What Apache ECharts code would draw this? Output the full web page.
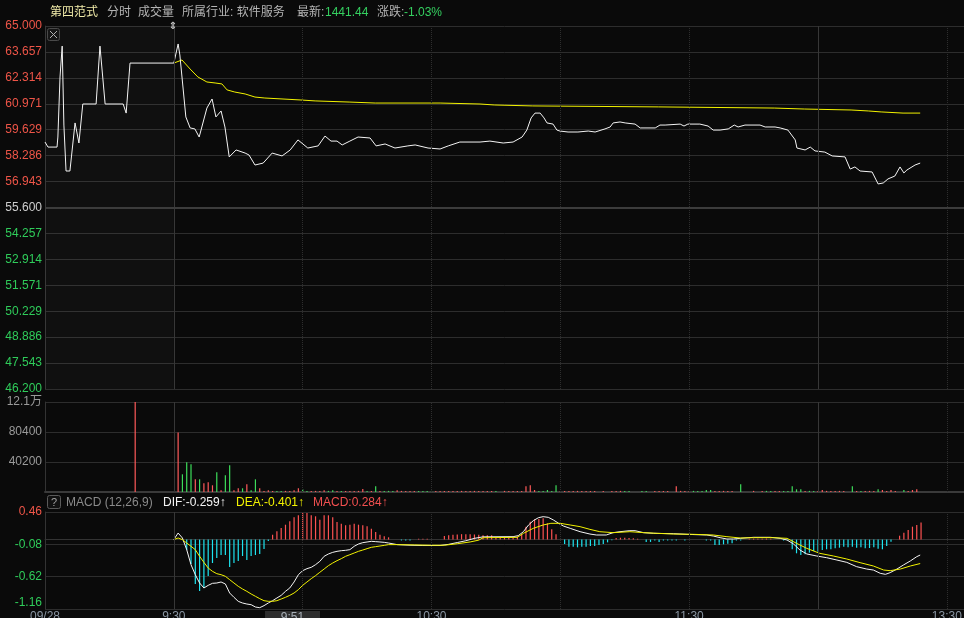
<!DOCTYPE html>
<html><head><meta charset="utf-8">
<script src="https://cdn.jsdelivr.net/npm/echarts@6.0.0/dist/echarts.min.js"></script>
<style>html,body{margin:0;padding:0;background:#0a0a0a;overflow:hidden}#c{width:964px;height:618px}</style>
</head><body><div id="c"></div>
<script>
// x = trading minutes after 09:00 (09:00-09:30 pre-open, 09:30-12:00, then 13:00-...; lunch collapsed)
const priceData = [
[0,58.99],[0.7,58.73],[2.8,58.73],[3.0,59.25],[3.5,62.36],[4.0,63.96],[4.4,59.87],[4.9,57.49],[5.8,57.49],[7.0,59.98],[7.9,58.94],[8.8,60.96],[11.9,60.96],[12.8,63.96],[14.0,60.96],[18.2,60.96],[18.9,60.49],[19.8,63.08],[30,63.08],
[31,64.07],[31.4,63.5],[32.8,60.29],[33.8,59.72],[34.9,59.67],[35.9,59.25],[37.7,60.75],[38.9,61.22],[39.8,60.29],[41,60.6],[41.9,59.77],[42.9,58.22],[44.5,58.58],[46.6,58.42],[47.5,58.32],[48.9,57.8],[50.8,57.9],[52.9,58.42],[55.2,58.27],[57.1,58.58],[58.9,59.1],[61.2,58.68],[63.6,58.79],[65.2,59.3],[66.6,59.04],[68,59.04],[69.2,58.84],[71,59.04],[72.9,59.25],[75.7,59.2],[77.1,58.79],[79.2,58.89],[81.5,58.68],[84.5,58.79],[86.2,58.84],[89.2,58.68],[92,58.63],[93.9,58.79],[96.6,58.99],[101.3,58.99],[103.6,59.04],[106.7,58.94],[109,58.99],[111.1,59.25],[112.2,59.61],[113.2,60.24],[114.1,60.49],[115.3,60.49],[116.2,60.24],[116.9,59.98],[118.3,59.92],[119.2,59.61],[119.9,59.56],[121.8,59.51],[124.1,59.51],[126.5,59.56],[128.1,59.51],[130.4,59.67],[131.6,59.77],[132.3,59.98],[133.9,60.03],[135.1,59.98],[137.4,59.92],[138.6,59.72],[142.1,59.72],[143.2,59.87],[144.4,59.87],[147.9,59.92],[148.8,59.82],[149.7,59.92],[152.5,59.92],[154.4,59.82],[155.6,59.61],[157.2,59.61],[159.1,59.67],[160.5,59.87],[161.4,59.77],[163,59.87],[166.5,59.87],[167.7,59.77],[170,59.77],[171.2,59.72],[173,59.61],[174.7,59.1],[175.1,58.68],[177,58.58],[178.2,58.73],[179.3,58.53],[181.6,58.47],[183.3,58.27],[186.3,58.22],[187.5,57.59],[188.6,57.7],[189.8,57.49],[192.6,57.44],[194,56.82],[195.2,56.87],[196.3,57.08],[197.9,57.23],[199.1,57.7],[200,57.39],[200.7,57.54],[202.6,57.8],[203.8,57.9]
];
const avgData = [
[30,63.08],[31.9,63.24],[33.8,62.77],[35.6,62.36],[37.7,62.1],[39.6,62.05],[41.2,62.0],[42.4,61.69],[44.2,61.58],[46.6,61.48],[48.9,61.32],[51.2,61.27],[59.4,61.17],[62.9,61.12],[71,61.06],[76.9,61.01],[92,61.01],[101.3,60.96],[104.6,60.91],[113.6,60.86],[142.8,60.81],[169.8,60.75],[176.8,60.7],[187.7,60.65],[191.7,60.6],[194.7,60.55],[199.8,60.49],[203.8,60.49]
];
// [minute, volume, direction(1 up / -1 down)]
const volData = [
[21,120600,1],
[31,79600,1],[32,23700,-1],[33,39800,-1],[34,37100,-1],[35,17000,1],[36,17000,-1],[37,11700,1],[38,13000,1],[39,9000,1],[40,26400,-1],[41,2300,1],[42,22400,-1],[43,35800,-1],[44,2300,1],[45,5000,1],[46,5000,-1],[47,10300,1],[48,2300,-1],[49,17000,-1],[50,5000,1],[51,1500,1],[52,2300,1],[53,1500,1],[54,1500,-1],[55,1500,-1],[56,1500,1],[57,1500,1],[58,2300,1],[59,5000,1],[60,4000,-1],[61,1500,-1],[62,1500,1],[63,1500,1],[64,1500,1],[65,2300,1],[66,1500,-1],[67,2300,-1],[68,1500,1],[69,1500,-1],[70,1500,1],[71,1500,1],[72,1500,1],[73,1500,1],[74,4000,1],[75,1500,-1],[76,1500,1],[77,7700,-1],[78,1500,1],[79,1500,-1],[80,1500,-1],[81,1500,-1],[82,2300,1],[83,1500,1],[84,1500,1],[85,1500,1],[86,1500,1],[87,1500,-1],[88,1500,-1],[89,1500,-1],
[90,1500,-1],[91,1500,1],[92,1500,1],[93,1500,1],[94,1500,1],[95,1500,1],[96,1500,1],[97,1500,1],[98,1500,1],[99,1500,1],[100,1500,1],[101,1500,1],
[102,1500,1],[103,1500,1],[104,1500,1],[105,1500,-1],[107,1500,1],[108,1500,1],[109,1500,1],[110,1500,1],[111,1500,1],[112,7700,1],[113,9000,1],[114,2700,1],[115,1500,-1],[116,1500,-1],[117,2700,-1],[118,1500,-1],[119,9000,-1],[120,1500,1],[121,1500,1],[122,1500,1],[123,1500,1],[124,1500,1],[125,1500,1],[126,1500,1],[127,1500,1],[128,1500,1],[130,1500,1],[132,1500,1],[133,1500,1],[134,1500,1],[135,1500,-1],[136,1500,-1],[139,1500,-1],[140,1500,-1],[142,1500,1],[143,1500,1],[144,1500,1],[145,1500,1],[147,7700,1],[148,1500,1],[149,1500,1],[150,1500,1],[151,1500,-1],[152,1500,-1],[153,1500,-1],[154,2700,-1],[155,2700,-1],[156,1500,1],[157,1500,1],[158,1500,1],[159,1500,1],[160,1500,1],[162,10300,-1],[165,1500,1],[167,1500,1],[168,1500,-1],[169,1500,-1],[170,1500,1],[171,1500,1],[172,1500,-1],[173,1500,-1],[174,7700,-1],[175,3600,-1],[176,3600,-1],[177,1500,1],[178,1500,-1],[179,1500,-1],[180,1500,1],[181,2700,1],[182,1500,1],[183,1500,1],[184,1500,1],[185,1500,1],[186,1500,1],[188,7700,-1],[189,1500,1],[190,1500,-1],[191,1500,1],[192,1500,1],[193,1500,1],[194,3600,-1],[195,2700,1],[196,1500,1],[197,2700,1],[198,1500,1],[200,2700,-1],[201,1500,1],[202,2700,1],[203,3600,1]
];
const difData = [
[30,0.0],[31,0.109],[32,0.026],[33,-0.169],[34,-0.42],[35,-0.587],[36,-0.726],[37,-0.809],[38,-0.765],[39,-0.731],[40,-0.726],[41,-0.709],[42,-0.742],[43,-0.893],[44,-0.965],[45,-1.032],[46,-1.06],[47,-1.077],[48,-1.088],[49,-1.127],[50,-1.138],[51,-1.104],[52,-1.06],[53,-1.021],[54,-0.976],[55,-0.932],[56,-0.865],[57,-0.809],[58,-0.709],[59,-0.587],[60,-0.52],[61,-0.486],[62,-0.464],[63,-0.42],[64,-0.364],[65,-0.28],[66,-0.241],[67,-0.214],[68,-0.197],[69,-0.186],[70,-0.18],[71,-0.169],[72,-0.113],[73,-0.074],[74,-0.052],[75,-0.041],[76,-0.03],[77,-0.035],[78,-0.041],[79,-0.047],[80,-0.058],[82,-0.085],[85,-0.095],[88,-0.1],[92,-0.1],[94,-0.08],[96,-0.05],[98,-0.02],[100,0.02],[102,0.045],[109,0.048],[110.2,0.065],[111.4,0.131],[112.6,0.243],[113.7,0.315],[114.9,0.365],[116,0.382],[117.2,0.371],[118.4,0.326],[119.6,0.271],[120.7,0.226],[122.3,0.187],[124.6,0.131],[126.9,0.092],[128.4,0.076],[130.7,0.076],[132.3,0.115],[133.9,0.131],[136.2,0.148],[137.4,0.148],[139.4,0.115],[141.7,0.104],[146.3,0.098],[149.5,0.087],[154.1,0.076],[155.6,0.059],[157.2,0.031],[158.8,0.009],[160.3,0.009],[161.9,0.02],[165,0.037],[168.9,0.037],[171.2,0.02],[172.8,-0.008],[174.3,-0.074],[175.8,-0.175],[177.4,-0.241],[179.7,-0.275],[182,-0.303],[184.4,-0.342],[186.7,-0.381],[189,-0.453],[191.3,-0.492],[192.9,-0.509],[194.5,-0.564],[195.7,-0.581],[196.8,-0.553],[198.4,-0.492],[199.9,-0.425],[201.5,-0.358],[203,-0.286],[203.8,-0.259]
];
const deaData = [
[30,0.0],[31,0.026],[32,-0.002],[33,-0.058],[34,-0.113],[35,-0.169],[36,-0.28],[37,-0.381],[38,-0.475],[39,-0.531],[40,-0.57],[41,-0.587],[42,-0.614],[43,-0.67],[44,-0.726],[45,-0.781],[46,-0.826],[47,-0.865],[48,-0.909],[49,-0.948],[50,-0.987],[51,-1.021],[52,-1.032],[53,-1.032],[54,-1.021],[55,-0.993],[56,-0.965],[57,-0.932],[58,-0.893],[59,-0.837],[60,-0.765],[61,-0.709],[62,-0.653],[63,-0.603],[64,-0.547],[65,-0.492],[66,-0.436],[67,-0.392],[68,-0.353],[69,-0.319],[70,-0.28],[71,-0.253],[72,-0.225],[73,-0.197],[74,-0.175],[75,-0.152],[76,-0.13],[77,-0.119],[78,-0.108],[79,-0.097],[80,-0.085],[82,-0.085],[86,-0.09],[90,-0.095],[93,-0.095],[96,-0.07],[99,-0.04],[101,-0.01],[102,0.03],[110,0.037],[111.4,0.104],[113.7,0.187],[116,0.243],[117.8,0.271],[120,0.271],[122.3,0.243],[124.6,0.215],[126.9,0.17],[129.2,0.131],[132.3,0.115],[136.2,0.131],[139.4,0.115],[142.5,0.104],[146.3,0.092],[151,0.087],[155.6,0.076],[158.8,0.048],[161.9,0.026],[165,0.031],[169.7,0.031],[172.8,0.02],[175,-0.063],[177.4,-0.147],[180.4,-0.23],[183.6,-0.275],[186.7,-0.325],[189.8,-0.386],[192.9,-0.442],[195.3,-0.509],[196.8,-0.52],[199.2,-0.492],[201.5,-0.442],[203.8,-0.401]
];
const macdData = [
[33,-0.175],[34,-0.408],[35,-0.742],[36,-0.859],[37,-0.809],[38,-0.609],[39,-0.392],[40,-0.308],[41,-0.258],[42,-0.258],[43,-0.458],[44,-0.392],[45,-0.358],[46,-0.275],[47,-0.342],[48,-0.275],[49,-0.258],[50,-0.241],[51,-0.158],[52,-0.024],
[53,0.081],[54,0.138],[55,0.193],[56,0.248],[57,0.305],[58,0.371],[59,0.405],[60,0.443],[61,0.443],[62,0.405],[63,0.388],[64,0.331],[65,0.405],[66,0.405],[67,0.371],[68,0.293],[69,0.265],[70,0.238],[71,0.248],[72,0.265],[73,0.248],[74,0.238],[75,0.221],[76,0.181],[77,0.126],[78,0.081],[79,0.054],[80,0.037],
[83,-0.015],[84,-0.015],[85,-0.015],[87,0.015],[88,0.015],[89,0.015],
[93,0.06],[94,0.07],[95,0.08],[96,0.085],[97,0.09],[98,0.09],[99,0.09],[100,0.085],[101,0.08],
[102,0.07],[103,0.07],[104,0.07],[105,0.03],[106,0.03],[107,0.03],[108,0.03],[109,0.03],[110,0.05],[111,0.09],[112,0.215],[113,0.298],[114,0.337],[115,0.343],[116,0.354],[117,0.271],[118,0.17],[119,0.087],
[121,-0.074],[122,-0.119],[123,-0.119],[124,-0.13],[125,-0.119],[126,-0.119],[127,-0.108],[128,-0.108],[129,-0.091],[130,-0.074],[131,-0.047],
[132,-0.012],[133,0.025],[134,0.03],[135,0.03],[136,0.025],[137,0.02],[138,0.015],
[140,-0.04],[141,-0.04],[142,-0.015],[143,-0.04],[144,-0.015],[145,-0.015],[146,-0.015],[147,-0.015],[149,-0.015],
[154,-0.015],[155,-0.015],[156,-0.09],[157,-0.09],[158,-0.08],[159,-0.07],[160,-0.06],[161,-0.015],[162,-0.015],
[164,0.015],[165,0.015],[166,0.015],[167,0.015],[168,0.015],[169,0.015],
[172,-0.015],[173,-0.015],[174,-0.163],[175,-0.23],[176,-0.258],[177,-0.247],[178,-0.219],[179,-0.191],[180,-0.203],[181,-0.175],[182,-0.163],[183,-0.163],[184,-0.147],[185,-0.136],[186,-0.119],[187,-0.13],[188,-0.119],[189,-0.136],[190,-0.13],[191,-0.147],[192,-0.141],[193,-0.13],[194,-0.152],[195,-0.163],[196,-0.108],[197,-0.035],
[199,0.064],[200,0.115],[201,0.159],[202,0.215],[203,0.243],[204,0.284]
];
const sessionTicks = [30, 60, 90, 120, 150, 180, 210];
const sessionBreaks = [30, 180];
const timeTickPos = [0, 30, 90, 150, 210];
const timeTickText = ['09/28', '9:30', '10:30', '11:30', '13:30'];
const preOpenEnd = 30;
const xMax = 214;
const priceMin = 46.2, priceMax = 65.0, prevClose = 55.6, priceSplits = 14;
const volMax = 120600, volSplits = 3;
const macdMin = -1.16, macdMax = 0.46, macdSplits = 3;
const cursorTime = 51, cursorText = '9:51';
const headerTexts = ['第四范式', '分时', '成交量', '所属行业: 软件服务', '最新:', '1441.44', '涨跌:', '-1.03%'];
const macdTexts = ['MACD (12,26,9)', 'DIF:-0.259↑', 'DEA:-0.401↑', 'MACD:0.284↑'];

const FONT = '"Liberation Sans", Arial, "Noto Sans CJK SC", sans-serif';
const RED = '#ee5548', GREEN = '#2fcc5a', GRIDC = '#2d2d2d';
const chart = echarts.init(document.getElementById('c'));

const vLines = sessionTicks.map(t => ({
  xAxis: t,
  lineStyle: { color: sessionBreaks.includes(t) ? '#373737' : '#2e2e2e', type: sessionBreaks.includes(t) ? 'solid' : 'dotted', width: 1 }
}));
const mk = extra => ({ silent: true, symbol: 'none', label: { show: false }, animation: false, data: vLines.concat(extra || []) });
const labelFor = v => { const i = timeTickPos.indexOf(Math.round(v)); return (i >= 0 && Math.abs(v - timeTickPos[i]) < 1e-6) ? timeTickText[i] : ''; };

const gridBase = { left: 45, right: 0, containLabel: false, outerBoundsMode: 'none' };
const option = {
  backgroundColor: '#0a0a0a',
  animation: false,
  textStyle: { fontFamily: FONT },
  grid: [
    Object.assign({ top: 26, height: 363 }, gridBase),
    Object.assign({ top: 402, height: 90 }, gridBase),
    Object.assign({ top: 512, height: 97 }, gridBase)
  ],
  xAxis: [0, 1, 2].map(i => ({
    type: 'value', gridIndex: i, min: 0, max: xMax, interval: 30,
    axisLine: { show: i > 0, lineStyle: { color: i === 1 ? '#3a3a3a' : '#333', width: i === 1 ? 2 : 1 } },
    axisTick: { show: false }, splitLine: { show: false },
    axisLabel: i === 2 ? { show: true, color: '#8a96a3', fontSize: 12, margin: 2, fontFamily: FONT, formatter: labelFor } : { show: false }
  })),
  yAxis: [
    { type: 'value', gridIndex: 0, min: priceMin, max: priceMax, interval: (priceMax - priceMin) / priceSplits + 1e-9,
      axisLine: { show: true, lineStyle: { color: '#333' } }, axisTick: { show: false },
      splitLine: { lineStyle: { color: GRIDC } },
      axisLabel: { fontSize: 12, margin: 3, fontFamily: FONT, formatter: v => v.toFixed(3),
        color: v => v > prevClose + 1e-4 ? RED : (v < prevClose - 1e-4 ? GREEN : '#cfcfcf') } },
    { type: 'value', gridIndex: 1, min: 0, max: volMax, interval: volMax / volSplits,
      axisLine: { show: true, lineStyle: { color: '#333' } }, axisTick: { show: false },
      splitLine: { lineStyle: { color: GRIDC } },
      axisLabel: { fontSize: 12, margin: 3, color: '#9a9a9a', fontFamily: FONT,
        formatter: v => v === 0 ? '' : (v >= 100000 ? (v / 10000).toFixed(1) + '万' : String(Math.round(v))) } },
    { type: 'value', gridIndex: 2, min: macdMin, max: macdMax, interval: (macdMax - macdMin) / macdSplits + 1e-9,
      axisLine: { show: true, lineStyle: { color: '#333' } }, axisTick: { show: false },
      splitLine: { lineStyle: { color: GRIDC } },
      axisLabel: { fontSize: 12, margin: 3, fontFamily: FONT, formatter: v => v.toFixed(2),
        verticalAlignMinLabel: 'bottom',
        color: v => v > 0 ? RED : GREEN } }
  ],
  series: [
    { type: 'line', xAxisIndex: 0, yAxisIndex: 0, data: priceData, showSymbol: false, symbol: 'none',
      lineStyle: { color: '#f4f4f4', width: 1 }, z: 3,
      markArea: { silent: true, itemStyle: { color: 'rgba(255,255,255,0.028)' }, data: [[{ xAxis: 0 }, { xAxis: preOpenEnd }]] },
      markLine: mk([{ yAxis: prevClose, lineStyle: { color: '#3c3c3c', width: 2, type: 'solid' } }]) },
    { type: 'line', xAxisIndex: 0, yAxisIndex: 0, data: avgData, showSymbol: false, symbol: 'none',
      lineStyle: { color: '#f2f200', width: 1 }, z: 2 },
    { type: 'bar', xAxisIndex: 1, yAxisIndex: 1, barWidth: 1.2,
      data: volData.map(d => ({ value: [d[0], d[1]], itemStyle: { color: d[2] > 0 ? '#ff5a5a' : '#3ddc5a' } })),
      markLine: mk() },
    { type: 'bar', xAxisIndex: 2, yAxisIndex: 2, barWidth: 1.2,
      data: macdData.map(d => ({ value: d, itemStyle: { color: d[1] >= 0 ? '#ff5252' : '#1ee4f0' } })),
      markLine: mk() },
    { type: 'line', xAxisIndex: 2, yAxisIndex: 2, data: difData, showSymbol: false, symbol: 'none',
      lineStyle: { color: '#f4f4f4', width: 1 }, z: 3 },
    { type: 'line', xAxisIndex: 2, yAxisIndex: 2, data: deaData, showSymbol: false, symbol: 'none',
      lineStyle: { color: '#f2f200', width: 1 }, z: 3 }
  ]
};
chart.setOption(option);

const txt = (text, x, y, fill, extra) => Object.assign({ type: 'text', x, y, silent: true, z: 100,
  style: Object.assign({ text, fill, font: '12px ' + FONT, textVerticalAlign: 'middle' }, extra || {}) });
const p930 = chart.convertToPixel({ xAxisIndex: 0 }, preOpenEnd);
const pCur = chart.convertToPixel({ xAxisIndex: 2 }, cursorTime);
const topY = chart.convertToPixel({ yAxisIndex: 0 }, priceMax);
const g = [
  txt(headerTexts[0], 50, 13, '#f0eaa8'),
  txt(headerTexts[1], 107, 13, '#b4b4b4'),
  txt(headerTexts[2], 138, 13, '#b4b4b4'),
  txt(headerTexts[3], 182, 13, '#b4b4b4'),
  txt(headerTexts[4], 297, 13, '#b4b4b4'),
  txt(headerTexts[5], 325, 13, '#35d060'),
  txt(headerTexts[6], 377, 13, '#b4b4b4'),
  txt(headerTexts[7], 404, 13, '#35d060'),
  // close box
  { type: 'rect', silent: true, z: 100, shape: { x: 47.5, y: 28.5, width: 12, height: 12, r: 2 }, style: { fill: '#161616', stroke: '#4a4a4a', lineWidth: 1 } },
  { type: 'polyline', silent: true, z: 101, shape: { points: [[50, 31], [57, 38]] }, style: { stroke: '#b0b0b0', lineWidth: 1 } },
  { type: 'polyline', silent: true, z: 101, shape: { points: [[57, 31], [50, 38]] }, style: { stroke: '#b0b0b0', lineWidth: 1 } },
  // handle marker at 9:30
  txt('⇕', p930 - 1, topY, '#c8c8c8', { font: 'bold 10px "DejaVu Sans"', textAlign: 'center' }),
  // MACD header
  { type: 'rect', silent: true, z: 100, shape: { x: 47.5, y: 495.5, width: 13, height: 13, r: 2 }, style: { fill: '#111', stroke: '#5a5a5a', lineWidth: 1 } },
  txt('?', 54, 502.5, '#a0a0a0', { textAlign: 'center', font: '11px ' + FONT }),
  txt(macdTexts[0], 66, 502.5, '#8a8a8a'),
  txt(macdTexts[1], 163, 502.5, '#f4f4f4'),
  txt(macdTexts[2], 236, 502.5, '#f2f200'),
  txt(macdTexts[3], 313, 502.5, '#f25050'),
  // cursor time label
  { type: 'rect', silent: true, z: 100, shape: { x: pCur + 1, y: 611, width: 55, height: 14 }, style: { fill: '#2e2e2e' } },
  txt(cursorText, pCur + 28.5, 618, '#a8b0b8', { textAlign: 'center' })
];
chart.setOption({ graphic: g });
</script></body></html>
